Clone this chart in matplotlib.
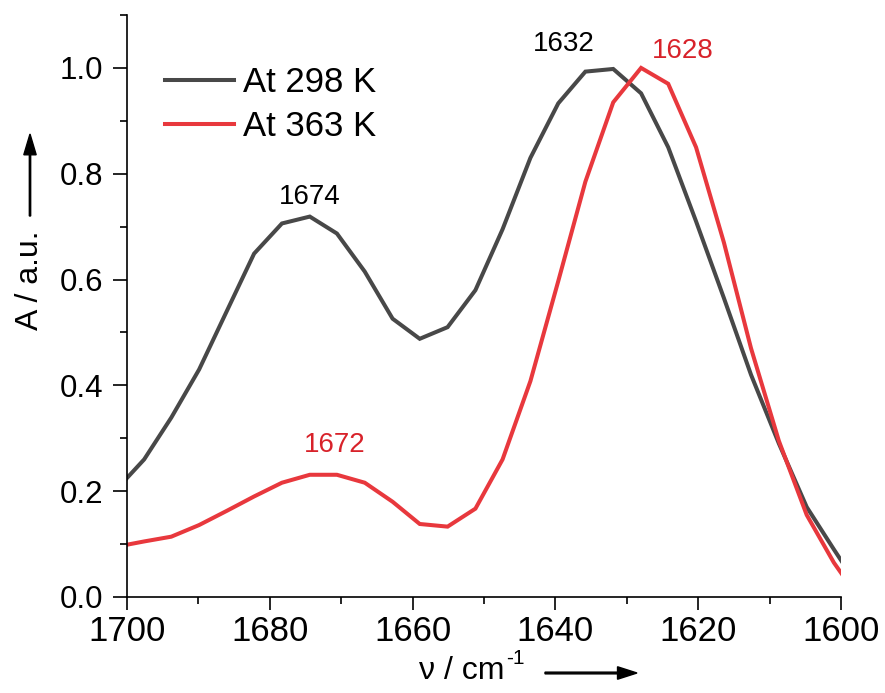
import matplotlib
matplotlib.use("Agg")
import matplotlib.pyplot as plt
from matplotlib.ticker import MultipleLocator

plt.rcParams["font.family"] = ["Liberation Sans", "DejaVu Sans"]

# wavenumber grid (cm-1) and absorbance
wavenumber = [1701.5, 1697.6, 1693.8, 1689.9, 1686.0, 1682.2, 1678.3, 1674.4,
              1670.6, 1666.7, 1662.8, 1659.0, 1655.1, 1651.2, 1647.4, 1643.5,
              1639.6, 1635.8, 1631.9, 1628.0, 1624.2, 1620.3, 1616.4, 1612.6,
              1608.7, 1604.8, 1601.0, 1597.1]
abs_298 = [0.203, 0.260, 0.339, 0.430, 0.541, 0.649, 0.706, 0.719,
           0.687, 0.615, 0.526, 0.488, 0.510, 0.580, 0.695, 0.830,
           0.933, 0.993, 0.998, 0.952, 0.850, 0.710, 0.565, 0.420,
           0.290, 0.170, 0.090, 0.010]
abs_363 = [0.095, 0.105, 0.114, 0.136, 0.163, 0.190, 0.216, 0.231,
           0.231, 0.216, 0.180, 0.138, 0.133, 0.167, 0.260, 0.408,
           0.597, 0.785, 0.935, 1.000, 0.970, 0.850, 0.670, 0.470,
           0.295, 0.155, 0.065, -0.010]
series_labels = ["At 298 K", "At 363 K"]
series_colors = ["#484848", "#e8383d"]

# peak annotations: label position (x, y), text, colour index
peak_x = [1674.4, 1638.9, 1622.1, 1670.9]
peak_y = [0.732, 1.020, 1.008, 0.262]
peak_text = ["1674", "1632", "1628", "1672"]
peak_color = [0, 0, 1, 1]

fig = plt.figure(figsize=(8.85, 6.93), dpi=100)
ax = fig.add_axes([127 / 885, 96 / 693, 714 / 885, 582 / 693])

for ys, lab, col in zip([abs_298, abs_363], series_labels, series_colors):
    ax.plot(wavenumber, ys, color=col, lw=2.9, label=lab, solid_joinstyle="miter")

for px, py, t, ci in zip(peak_x, peak_y, peak_text, peak_color):
    ax.text(px, py, t, color="black" if ci == 0 else "#d8222a",
            fontsize=20, ha="center", va="bottom")

ax.set_xlim(1700, 1600)
ax.set_ylim(0, 1.1)
ax.xaxis.set_major_locator(MultipleLocator(20))
ax.xaxis.set_minor_locator(MultipleLocator(10))
ax.yaxis.set_minor_locator(MultipleLocator(0.1))
ax.set_yticks([0, 0.2, 0.4, 0.6, 0.8, 1.0])
ax.set_yticklabels(["0.0", "0.2", "0.4", "0.6", "0.8", "1.0"])

for s in ["top", "right"]:
    ax.spines[s].set_visible(False)
for s in ["left", "bottom"]:
    ax.spines[s].set_linewidth(1.2)

ax.tick_params(axis="x", which="major", direction="out", length=9, width=1.2,
               labelsize=25, pad=4)
ax.tick_params(axis="x", which="minor", direction="out", length=5, width=1.2)
ax.tick_params(axis="y", which="major", direction="out", length=10, width=1.2,
               labelsize=22.5, pad=7)
ax.tick_params(axis="y", which="minor", direction="out", length=5, width=1.2)

leg = ax.legend(loc="upper left", bbox_to_anchor=(165 / 885, 1 - 66 / 693),
                bbox_transform=fig.transFigure, frameon=False,
                fontsize=25, handlelength=2.0, handletextpad=0.26,
                labelspacing=0.32, borderaxespad=0, borderpad=0)

# axis titles with arrows
fig.text(30 / 885, 1 - 280 / 693, "A / a.u.", rotation=90, fontsize=23,
         ha="center", va="center")
fig.patches.append(matplotlib.patches.FancyArrow(
    30 / 885, 1 - 216 / 693, 0, 82 / 693, width=0.0015, head_width=0.014,
    head_length=0.03, length_includes_head=True, color="black",
    transform=fig.transFigure, figure=fig))

fig.text(505 / 885, 1 - 671 / 693, "\u03bd / cm", fontsize=23,
         ha="right", va="center")
fig.text(506 / 885, 1 - 659 / 693, "-1", fontsize=15,
         ha="left", va="center")
fig.patches.append(matplotlib.patches.FancyArrow(
    545 / 885, 1 - 673 / 693, 92 / 885, 0, width=0.0025, head_width=0.018,
    head_length=0.022, length_includes_head=True, color="black",
    transform=fig.transFigure, figure=fig))

fig.savefig("out.png", dpi=100)
